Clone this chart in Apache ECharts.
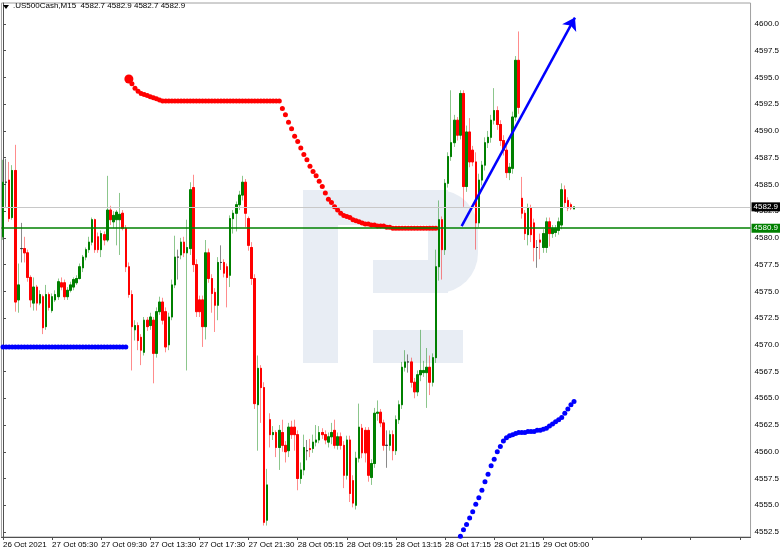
<!DOCTYPE html>
<html><head><meta charset="utf-8">
<script src="https://cdn.jsdelivr.net/npm/echarts@6/dist/echarts.min.js"></script>
<style>html,body{margin:0;padding:0;background:#fff}#c{width:782px;height:554px}</style>
</head><body><div id="c"></div>
<script>
// ---------- data ----------
const symbolName = '.US500Cash,M15';
const xTickLabels = ['26 Oct 2021','27 Oct 05:30','27 Oct 09:30','27 Oct 13:30','27 Oct 17:30','27 Oct 21:30','28 Oct 05:15','28 Oct 09:15','28 Oct 13:15','28 Oct 17:15','28 Oct 21:15','29 Oct 05:00'];
const barsPerLabel = 16;
const slotCount = 244;
const yTicks = [4552.5,4555.0,4557.5,4560.0,4562.5,4565.0,4567.5,4570.0,4572.5,4575.0,4577.5,4580.0,4582.5,4585.0,4587.5,4590.0,4592.5,4595.0,4597.5,4600.0];
const yMin = 4552.03, yMax = 4601.96;
const priceLine = 4582.9;
const levelLine = 4580.9;

const opens = [4580.1,4585.2,4585.4,4581.9,4586.3,4574.2,4579.0,4579.0,4578.6,4576.3,
4573.9,4575.4,4573.9,4574.5,4571.7,4574.7,4573.2,4574.2,4574.5,4575.8,
4575.8,4574.5,4575.1,4575.4,4575.8,4576.2,4577.2,4578.2,4578.9,4579.6,
4581.7,4580.1,4578.9,4580.3,4579.8,4582.6,4581.5,4581.7,4581.7,4582.3,
4580.9,4577.3,4574.7,4571.4,4571.8,4570.7,4569.3,4572.3,4571.8,4572.3,
4569.2,4573.1,4574.0,4573.1,4570.0,4572.6,4575.6,4578.2,4578.4,4579.6,
4578.6,4579.0,4584.7,4577.5,4574.2,4574.2,4571.7,4578.6,4576.2,4574.9,
4573.7,4577.7,4577.7,4577.3,4576.5,4581.8,4582.3,4583.1,4584.0,4585.2,
4581.8,4579.1,4576.2,4564.4,4567.8,4566.0,4553.6,4563.0,4561.6,4561.8,
4560.4,4561.8,4560.6,4560.1,4562.3,4562.3,4561.6,4557.5,4558.3,4560.1,
4560.3,4560.3,4560.9,4561.1,4561.8,4561.6,4560.9,4561.4,4562.0,4560.6,
4561.4,4560.6,4557.8,4561.1,4557.3,4555.0,4559.4,4562.2,4562.0,4562.0,
4557.6,4558.9,4563.6,4563.7,4562.7,4560.6,4560.6,4561.6,4560.1,4563.0,
4564.4,4567.9,4568.4,4568.4,4566.5,4565.6,4567.2,4567.4,4567.4,4567.9,
4566.5,4568.8,4577.3,4581.7,4578.9,4585.1,4587.6,4588.9,4591.0,4589.6,
4593.5,4584.8,4589.9,4588.2,4587.1,4581.4,4585.4,4586.8,4588.9,4589.4,
4591.0,4591.9,4590.6,4589.1,4588.2,4586.1,4586.5,4591.3,4596.6,4583.7,
4582.3,4580.3,4582.8,4581.4,4579.1,4579.8,4579.1,4579.1,4581.5,4580.4,
4580.5,4580.7,4581.2,4584.5,4583.5,4583.1,4582.7];
const closes = [4585.2,4585.2,4581.8,4586.3,4574.0,4575.6,4579.0,4578.6,4576.3,4574.2,
4575.4,4573.9,4574.7,4571.6,4574.7,4573.5,4574.5,4574.7,4575.9,4575.4,
4574.5,4575.1,4575.6,4576.1,4576.2,4577.3,4578.2,4578.9,4579.6,4581.7,
4578.9,4578.9,4580.4,4579.8,4582.6,4581.7,4582.1,4582.4,4582.2,4580.9,
4577.3,4574.7,4571.7,4571.8,4570.4,4569.5,4572.3,4571.7,4572.6,4569.2,
4573.1,4574.0,4572.3,4569.8,4572.6,4575.6,4578.2,4578.2,4579.6,4578.6,
4579.1,4584.5,4577.5,4573.1,4573.1,4571.7,4578.6,4576.2,4574.8,4573.7,
4577.7,4577.7,4576.7,4576.3,4581.8,4582.3,4583.1,4584.0,4585.2,4582.3,
4579.3,4576.2,4564.5,4567.8,4566.0,4553.4,4556.9,4561.6,4561.8,4560.4,
4562.0,4560.6,4560.0,4562.3,4561.6,4561.6,4557.5,4558.3,4560.4,4560.1,
4560.2,4560.9,4561.1,4561.8,4561.6,4561.1,4561.4,4561.8,4560.6,4561.4,
4560.6,4557.8,4561.1,4556.1,4555.2,4559.4,4562.3,4559.9,4559.9,4557.8,
4558.9,4563.6,4563.7,4562.7,4560.6,4560.6,4561.6,4560.1,4563.0,4564.4,
4567.9,4568.4,4568.4,4566.5,4565.6,4567.2,4567.6,4567.6,4567.9,4566.5,
4568.8,4577.3,4581.7,4578.9,4585.1,4587.6,4588.9,4591.0,4589.6,4593.5,
4584.8,4589.9,4587.1,4587.1,4581.4,4585.4,4586.8,4588.9,4589.4,4591.0,
4591.9,4590.6,4589.1,4588.2,4586.1,4586.6,4591.3,4596.6,4592.2,4582.3,
4580.4,4582.8,4580.3,4579.1,4579.1,4579.6,4580.4,4581.5,4580.4,4580.9,
4580.9,4581.5,4584.5,4583.3,4582.8,4582.8,4582.9];
const lows = [4579.8,4582.9,4581.5,4581.7,4573.1,4573.0,4577.7,4577.7,4575.9,4573.5,
4573.2,4573.2,4573.7,4571.0,4571.4,4573.2,4573.0,4574.0,4574.2,4575.1,
4574.2,4574.2,4574.9,4575.1,4575.6,4576.1,4576.8,4577.9,4578.6,4579.3,
4578.6,4578.6,4578.2,4579.3,4579.6,4581.2,4580.9,4579.3,4578.4,4580.7,
4576.8,4574.4,4567.6,4570.4,4569.5,4568.1,4569.0,4571.3,4571.4,4566.4,
4568.8,4572.8,4571.9,4569.3,4569.5,4572.3,4575.3,4576.1,4578.0,4578.2,
4567.6,4578.4,4576.8,4572.6,4572.6,4569.8,4570.5,4575.8,4573.0,4571.2,
4572.3,4577.0,4576.3,4573.5,4575.4,4580.4,4580.6,4582.6,4583.5,4581.0,
4578.8,4575.6,4564.0,4560.1,4562.7,4553.1,4553.1,4560.4,4561.1,4559.5,
4558.3,4560.0,4559.0,4559.5,4561.2,4560.1,4556.4,4557.0,4557.8,4559.2,
4559.5,4559.9,4560.5,4560.8,4561.2,4560.7,4560.4,4560.7,4560.3,4560.2,
4560.2,4556.6,4557.4,4555.3,4554.8,4554.6,4559.0,4559.4,4559.0,4557.2,
4556.9,4558.5,4562.9,4562.3,4560.1,4558.5,4560.1,4559.2,4559.7,4562.6,
4564.0,4567.5,4567.4,4566.0,4565.0,4565.2,4566.6,4567.0,4564.1,4565.3,
4566.1,4568.3,4576.0,4576.1,4578.4,4584.7,4587.2,4588.5,4589.1,4589.2,
4582.9,4584.3,4586.6,4586.7,4578.9,4581.0,4584.9,4586.3,4588.4,4588.9,
4590.6,4590.1,4588.6,4587.7,4585.6,4585.4,4586.0,4590.9,4591.6,4581.8,
4579.8,4579.3,4579.6,4577.8,4577.2,4578.0,4578.6,4578.6,4579.2,4580.0,
4580.1,4580.3,4580.8,4582.9,4582.5,4582.6,4582.7];
const highs = [4587.3,4587.4,4587.1,4586.8,4588.7,4577.6,4581.4,4580.1,4578.9,4576.5,
4576.3,4575.6,4575.1,4574.7,4575.6,4574.9,4574.8,4575.1,4576.2,4576.3,
4576.1,4575.4,4575.9,4576.3,4576.5,4577.6,4578.4,4579.1,4580.1,4581.9,
4581.8,4580.5,4580.7,4580.6,4585.8,4583.0,4582.5,4582.6,4584.2,4582.6,
4581.2,4577.7,4575.1,4572.3,4572.1,4571.0,4572.6,4572.6,4573.0,4572.6,
4573.5,4574.5,4574.4,4573.5,4573.0,4576.1,4580.2,4578.9,4580.0,4580.1,
4581.7,4585.2,4585.9,4578.0,4574.6,4574.6,4579.8,4579.0,4576.6,4575.3,
4578.2,4579.3,4578.0,4577.6,4582.1,4582.6,4583.4,4584.4,4585.8,4585.5,
4582.0,4579.6,4576.6,4569.0,4568.1,4566.5,4558.4,4563.6,4562.4,4562.0,
4562.5,4563.0,4561.0,4562.7,4562.9,4563.0,4562.0,4559.0,4561.6,4561.1,
4561.2,4561.6,4562.5,4562.4,4562.2,4562.0,4561.8,4562.7,4563.0,4561.8,
4561.8,4561.0,4561.5,4561.5,4557.8,4560.0,4564.5,4562.6,4562.3,4562.3,
4559.3,4564.1,4564.8,4564.0,4563.0,4562.0,4562.0,4562.0,4563.4,4564.8,
4568.4,4569.5,4569.1,4568.8,4566.9,4567.6,4571.4,4568.5,4569.7,4569.0,
4569.2,4578.9,4583.5,4582.0,4585.5,4588.0,4593.8,4591.5,4591.3,4593.8,
4593.8,4590.5,4591.2,4588.6,4588.0,4586.0,4587.2,4589.4,4590.0,4591.5,
4594.0,4592.3,4591.0,4589.6,4588.6,4587.0,4591.8,4597.0,4599.3,4585.7,
4582.6,4583.2,4583.1,4581.8,4579.8,4580.4,4580.8,4581.9,4581.9,4581.2,
4581.2,4581.9,4585.1,4584.9,4583.8,4583.3,4582.9];

// Parabolic SAR dots (start bar index + values)
const sarBlueLeftStart = 0;
const sarBlueLeft = [4569.8,4569.8,4569.8,4569.8,4569.8,4569.8,4569.8,4569.8,4569.8,4569.8,
4569.8,4569.8,4569.8,4569.8,4569.8,4569.8,4569.8,4569.8,4569.8,4569.8,
4569.8,4569.8,4569.8,4569.8,4569.8,4569.8,4569.8,4569.8,4569.8,4569.8,
4569.8,4569.8,4569.8,4569.8,4569.8,4569.8,4569.8,4569.8,4569.8,4569.8,4569.8];
const sarRedStart = 41;
const sarRed = [4594.85,4594.4,4594.0,4593.7,4593.5,4593.4,4593.3,4593.2,4593.1,4593.0,4592.9,
4592.8,4592.8,4592.8,4592.8,4592.8,4592.8,4592.8,4592.8,4592.8,4592.8,
4592.8,4592.8,4592.8,4592.8,4592.8,4592.8,4592.8,4592.8,4592.8,4592.8,
4592.8,4592.8,4592.8,4592.8,4592.8,4592.8,4592.8,4592.8,4592.8,4592.8,
4592.8,4592.8,4592.8,4592.8,4592.8,4592.8,4592.8,4592.8,4592.8,
4592.1,4591.5,4590.8,4590.2,4589.5,4589.0,4588.4,4587.8,4587.3,4586.7,
4586.2,4585.8,4585.3,4584.8,4584.2,4583.6,4583.3,4582.9,4582.6,4582.3,
4582.1,4582.0,4581.9,4581.7,4581.6,4581.5,4581.4,4581.3,4581.3,4581.2,
4581.2,4581.1,4581.1,4581.1,4581.0,4581.0,4580.9,4580.9,4580.9,4580.9,
4580.9,4580.9,4580.9,4580.9,4580.9,4580.9,4580.9,4580.9,4580.9,4580.9,4580.9];
const sarBlueRightStart = 149;
const sarBlueRight = [4552.1,4552.7,4553.2,4553.8,4554.4,4555.1,4555.7,4556.4,4557.2,4557.9,
4558.7,4559.3,4560.0,4560.5,4561.0,4561.3,4561.5,4561.6,4561.7,4561.8,
4561.8,4561.8,4561.9,4561.9,4561.9,4562.0,4562.0,4562.1,4562.2,4562.4,
4562.6,4562.8,4563.0,4563.2,4563.6,4564.0,4564.4,4564.7];

// Trend arrow (bar position, price)
const arrowFrom = [149.4, 4581.1];
const arrowTo = [186.3, 4600.6];

// ---------- build ----------
const last = opens.length - 1;
const fmt = v => v.toFixed(1);
const headerText = symbolName + '  ' + fmt(opens[last]) + ' ' + fmt(highs[last]) + ' ' + fmt(lows[last]) + ' ' + fmt(closes[last]);
const categories = [];
for (let i = 0; i < slotCount; i++) categories.push(String(i));

const GREEN = '#008000', RED = '#ff0000';
const wickData = opens.map((o, i) => {
  const item = { value: [o, closes[i], lows[i], highs[i]] };
  if (o === closes[i]) item.itemStyle = { color: 'rgba(60,60,60,0.6)', borderColor: 'rgba(60,60,60,0.6)', color0: 'rgba(60,60,60,0.6)', borderColor0: 'rgba(60,60,60,0.6)' };
  return item;
});
const bodyData = opens.map((o, i) => {
  const c = closes[i];
  const item = { value: [o, c, Math.min(o, c), Math.max(o, c)] };
  if (o === c) item.itemStyle = { color: '#333', borderColor: '#333', color0: '#333', borderColor0: '#333' };
  return item;
});
const toPairs = (start, arr) => arr.map((v, k) => [start + k, v]);

const chart = echarts.init(document.getElementById('c'), null, { renderer: 'canvas' });
const axisFont = { fontFamily: 'Liberation Sans, Arial, sans-serif', fontSize: 8, color: '#000' };
const WM = '#e8edf4';

chart.setOption({
  animation: false,
  backgroundColor: '#fff',
  textStyle: { fontFamily: 'Liberation Sans, Arial, sans-serif' },
  grid: { left: 1, right: 30, top: 3, bottom: 17, show: true, borderColor: '#a0a0a0', borderWidth: 1, backgroundColor: 'transparent' },
  xAxis: [{
    type: 'category', data: categories, boundaryGap: true,
    axisLine: { show: true, lineStyle: { color: '#505050', width: 1 } },
    axisTick: { show: true, alignWithLabel: true, length: 3, interval: i => i % barsPerLabel === 0, lineStyle: { color: '#505050' } },
    axisLabel: Object.assign({ interval: i => i % barsPerLabel === 0 && i / barsPerLabel < xTickLabels.length,
      formatter: (v, i) => xTickLabels[Math.round(Number(v) / barsPerLabel)] || '', align: 'left', margin: 4, hideOverlap: false }, axisFont),
    splitLine: { show: false }
  }, {
    type: 'value', min: -0.5, max: slotCount - 0.5, show: false
  }],
  yAxis: {
    type: 'value', position: 'right', min: yMin, max: yMax, scale: true,
    axisLine: { show: true, lineStyle: { color: '#505050', width: 1 } },
    axisTick: { show: true, length: 3, customValues: yTicks, lineStyle: { color: '#505050' } },
    axisLabel: Object.assign({ customValues: yTicks, formatter: v => Number(v).toFixed(1), margin: 4 }, axisFont),
    splitLine: { show: false }
  },
  graphic: [
    { type: 'group', z: 0, silent: true, children: [
      { type: 'rect', shape: { x: 303, y: 190, width: 35, height: 173 }, style: { fill: WM } },
      { type: 'rect', shape: { x: 338, y: 190, width: 110, height: 35 }, style: { fill: WM } },
      { type: 'rect', shape: { x: 428, y: 190, width: 50, height: 103, r: [0, 40, 40, 0] }, style: { fill: WM } },
      { type: 'rect', shape: { x: 373, y: 260, width: 75, height: 33 }, style: { fill: WM } },
      { type: 'rect', shape: { x: 373, y: 330, width: 90, height: 33 }, style: { fill: WM } }
    ]},
    { type: 'polygon', z: 10, shape: { points: [[3, 5], [9, 5], [6, 9]] }, style: { fill: '#000' } },
    { type: 'text', z: 10, left: 13, top: 2, style: { text: headerText, fill: '#000', font: '8px "Liberation Sans", Arial, sans-serif' } }
  ],
  series: [
    { name: 'wick', type: 'candlestick', data: wickData, barWidth: 2, z: 3, silent: true,
      itemStyle: { color: 'rgba(0,128,0,0.45)', color0: 'rgba(255,0,0,0.45)', borderColor: 'rgba(0,128,0,0.45)', borderColor0: 'rgba(255,0,0,0.45)', borderWidth: 1 } },
    { name: 'body', type: 'candlestick', data: bodyData, barWidth: 2, z: 4, silent: true,
      itemStyle: { color: GREEN, color0: RED, borderColor: GREEN, borderColor0: RED, borderWidth: 1 },
      markLine: { silent: true, symbol: 'none', animation: false, z: 6,
        data: [
          { yAxis: priceLine, lineStyle: { color: '#c8c8c8', width: 1, type: 'solid' },
            label: { show: true, position: 'end', distance: 1, formatter: () => fmt(priceLine), backgroundColor: '#000', color: '#fff', padding: [1, 2, 0, 2], fontSize: 8, fontFamily: 'Liberation Sans, Arial, sans-serif' } },
          { yAxis: levelLine, lineStyle: { color: '#008000', width: 1.5, type: 'solid' },
            label: { show: true, position: 'end', distance: 1, formatter: () => fmt(levelLine), backgroundColor: '#008000', color: '#fff', padding: [1, 2, 0, 2], fontSize: 8, fontFamily: 'Liberation Sans, Arial, sans-serif' } }
        ] } },
    { name: 'sarBlueL', type: 'scatter', data: toPairs(sarBlueLeftStart, sarBlueLeft), symbolSize: 5, z: 5, silent: true, itemStyle: { color: '#0000ff', opacity: 1 } },
    { name: 'sarRed', type: 'scatter', data: toPairs(sarRedStart, sarRed), symbolSize: (v, p) => p.dataIndex === 0 ? 9 : 5, z: 5, silent: true, itemStyle: { color: '#ff0000', opacity: 1 } },
    { name: 'sarBlueR', type: 'scatter', data: toPairs(sarBlueRightStart, sarBlueRight), symbolSize: 5, z: 5, silent: true, itemStyle: { color: '#0000ff', opacity: 1 } },
    { name: 'arrow', type: 'line', xAxisIndex: 1, data: [], z: 7, silent: true,
      markLine: { silent: true, symbol: ['none', 'arrow'], symbolSize: 12, animation: false,
        lineStyle: { color: '#0000ff', width: 2.5, type: 'solid' }, label: { show: false },
        data: [[{ coord: arrowFrom }, { coord: arrowTo }]] } }
  ]
});
</script></body></html>
